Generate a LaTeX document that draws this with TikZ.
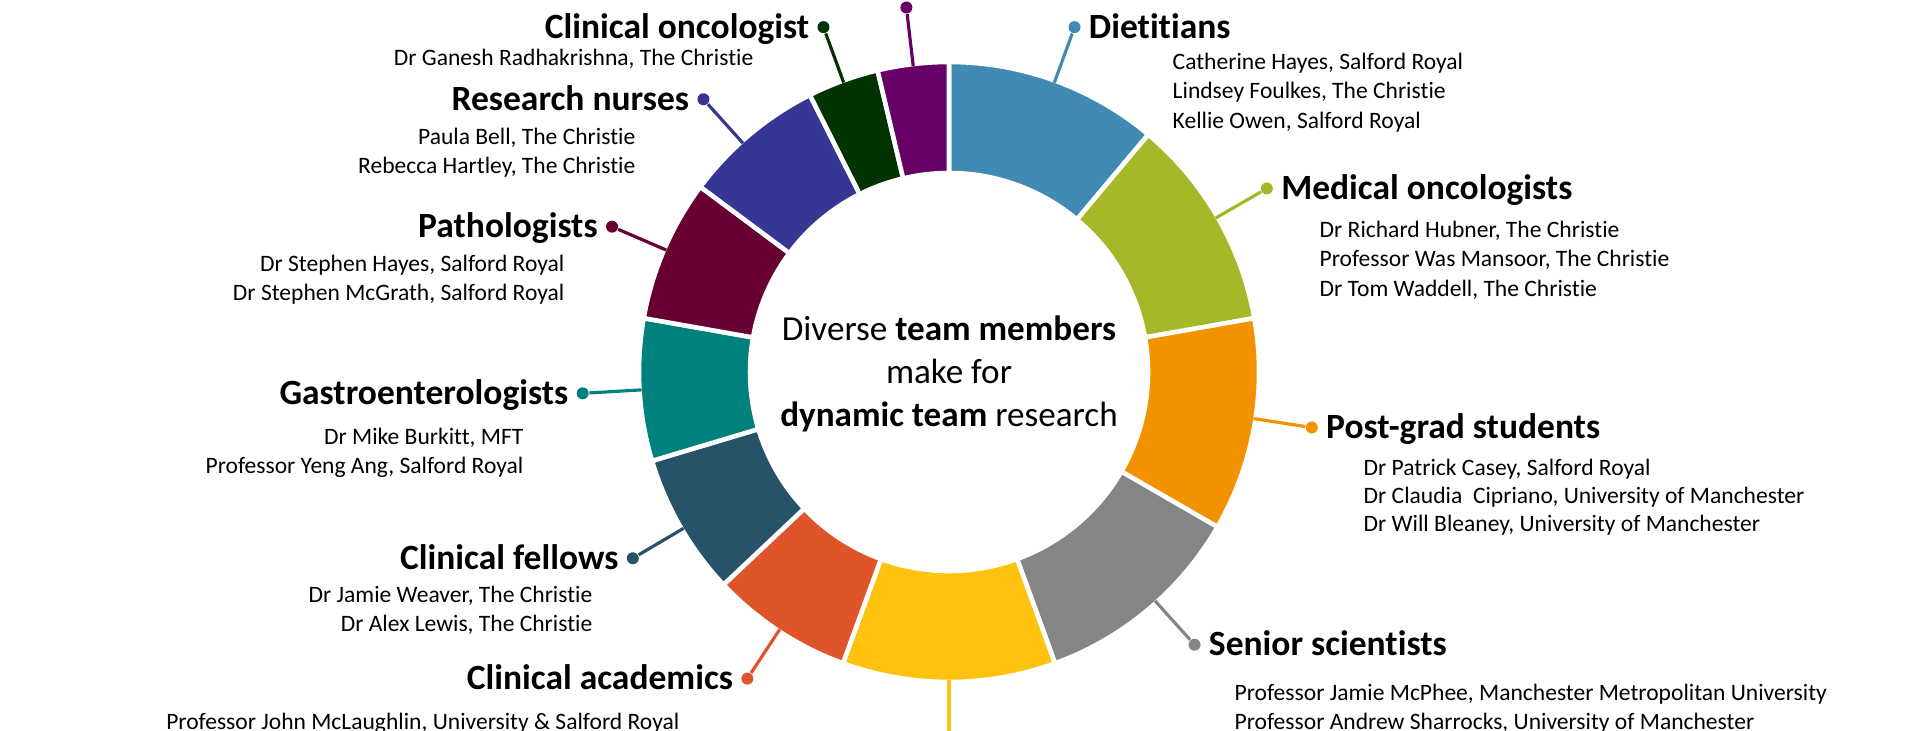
\documentclass[tikz,border=0pt]{standalone}
\usepackage{fontspec}
\setmainfont{Carlito}[Ligatures={NoCommon,NoRequired}]
\usetikzlibrary{positioning}

\definecolor{dietblue}{HTML}{418AB3}
\definecolor{medgreen}{HTML}{A6B727}
\definecolor{pgorange}{HTML}{F39200}
\definecolor{seniorgray}{HTML}{858585}
\definecolor{yellowseg}{HTML}{FFC20E}
\definecolor{acadred}{HTML}{E0542A}
\definecolor{fellowblue}{HTML}{275369}
\definecolor{gastroteal}{HTML}{00817E}
\definecolor{pathmaroon}{HTML}{680034}
\definecolor{nurseindigo}{HTML}{363795}
\definecolor{oncgreen}{HTML}{023302}
\definecolor{purpleseg}{HTML}{660066}

% one coloured piece of the ring
\newcommand{\ringpart}[3]{%
    \filldraw[part, fill=#3] (#1:3.1) arc[start angle=#1, end angle=#2, radius=3.1]
        -- (#2:1.99) arc[start angle=#2, end angle=#1, radius=1.99] -- cycle;}

\begin{document}
\begin{tikzpicture}[
    part/.style={draw=white, line width=1.3pt},
    pindot/.style={circle, fill=#1, inner sep=0pt, minimum size=0.12cm},
    leader/.style={draw=#1, line width=0.9pt},
    grouphead/.style={inner sep=0pt, text height=0.64em, text depth=0pt,
        font=\fontsize{10.1}{12}\selectfont\bfseries},
    who/.style={inner sep=0pt, font=\fontsize{6.7}{8.4}\selectfont},
    ]
    \useasboundingbox (0,0) rectangle (19.2,7.3);

    \begin{scope}[shift={(9.49,3.58)}]
    % ring
    \ringpart{90}{50}{dietblue}
    \ringpart{50}{10}{medgreen}
    \ringpart{10}{-30}{pgorange}
    \ringpart{-30}{-70}{seniorgray}
    \ringpart{-70}{-110}{yellowseg}
    \ringpart{-110}{-136.67}{acadred}
    \ringpart{-136.67}{-163.33}{fellowblue}
    \ringpart{-163.33}{-190}{gastroteal}
    \ringpart{-190}{-216.67}{pathmaroon}
    \ringpart{-216.67}{-243.33}{nurseindigo}
    \ringpart{-243.33}{-256.67}{oncgreen}
    \ringpart{-256.67}{-270}{purpleseg}

    % centre text
    \node[align=center, font=\fontsize{10}{12.2}\selectfont] (motto) at (0,-0.02)
        {Diverse \textbf{team members}\\make for\\\textbf{dynamic team} research};

    % dietitians
    \coordinate (dietRim) at (70:3.08);
    \node[pindot=dietblue] (dietDot) at (70:3.67) {};
    \draw[leader=dietblue] (dietRim) -- (dietDot);
    \node[grouphead, right=0.07 of dietDot] (dietHead) {Dietitians};

    % medical oncologists
    \coordinate (medoncRim) at (30:3.08);
    \node[pindot=medgreen] (medoncDot) at (30:3.67) {};
    \draw[leader=medgreen] (medoncRim) -- (medoncDot);
    \node[grouphead, right=0.07 of medoncDot] (medoncHead) {Medical oncologists};

    % post-grad students
    \coordinate (pgRim) at (-8.7:3.08);
    \node[pindot=pgorange] (pgDot) at (-8.7:3.67) {};
    \draw[leader=pgorange] (pgRim) -- (pgDot);
    \node[grouphead, right=0.07 of pgDot] (pgHead) {Post-grad students};

    % senior scientists
    \coordinate (seniorRim) at (-48:3.08);
    \node[pindot=seniorgray] (seniorDot) at (-48:3.67) {};
    \draw[leader=seniorgray] (seniorRim) -- (seniorDot);
    \node[grouphead, right=0.07 of seniorDot] (seniorHead) {Senior scientists};

    % yellow part, label below the frame
    \coordinate (yellowRim) at (-90:3.08);
    \coordinate (yellowEnd) at (-90:3.8);
    \draw[leader=yellowseg] (yellowRim) -- (yellowEnd);

    % clinical academics
    \coordinate (acadRim) at (-123.33:3.08);
    \node[pindot=acadred] (acadDot) at (-123.33:3.67) {};
    \draw[leader=acadred] (acadRim) -- (acadDot);
    \node[grouphead, left=0.07 of acadDot] (acadHead) {Clinical academics};

    % clinical fellows
    \coordinate (fellowRim) at (-149.5:3.08);
    \node[pindot=fellowblue] (fellowDot) at (-149.5:3.67) {};
    \draw[leader=fellowblue] (fellowRim) -- (fellowDot);
    \node[grouphead, left=0.07 of fellowDot] (fellowHead) {Clinical fellows};

    % gastroenterologists
    \coordinate (gastroRim) at (183.33:3.08);
    \node[pindot=gastroteal] (gastroDot) at (183.33:3.67) {};
    \draw[leader=gastroteal] (gastroRim) -- (gastroDot);
    \node[grouphead, left=0.07 of gastroDot] (gastroHead) {Gastroenterologists};

    % pathologists
    \coordinate (pathRim) at (156.67:3.08);
    \node[pindot=pathmaroon] (pathDot) at (156.67:3.67) {};
    \draw[leader=pathmaroon] (pathRim) -- (pathDot);
    \node[grouphead, left=0.07 of pathDot] (pathHead) {Pathologists};

    % research nurses
    \coordinate (nurseRim) at (132:3.08);
    \node[pindot=nurseindigo] (nurseDot) at (132:3.67) {};
    \draw[leader=nurseindigo] (nurseRim) -- (nurseDot);
    \node[grouphead, left=0.07 of nurseDot] (nurseHead) {Research nurses};

    % clinical oncologist
    \coordinate (clinoncRim) at (110:3.08);
    \node[pindot=oncgreen] (clinoncDot) at (110:3.67) {};
    \draw[leader=oncgreen] (clinoncRim) -- (clinoncDot);
    \node[grouphead, left=0.07 of clinoncDot] (clinoncHead) {Clinical oncologist};

    % purple part, label above the frame
    \coordinate (purpleRim) at (96.67:3.08);
    \node[pindot=purpleseg] (purpleDot) at (96.67:3.67) {};
    \draw[leader=purpleseg] (purpleRim) -- (purpleDot);
    \end{scope}

    % team members, right side
    \node[who, anchor=north west, align=left] (dietNames) at (11.72,6.78)
        {Catherine Hayes, Salford Royal\\Lindsey Foulkes, The Christie\\Kellie Owen, Salford Royal};
    \node[who, anchor=north west, align=left] (medoncNames) at (13.19,5.10)
        {Dr Richard Hubner, The Christie\\Professor Was Mansoor, The Christie\\Dr Tom Waddell, The Christie};
    \node[who, anchor=north west, align=left, font=\fontsize{6.7}{8.1}\selectfont] (pgNames) at (13.63,2.72)
        {Dr Patrick Casey, Salford Royal\\Dr Claudia~ Cipriano, University of Manchester\\Dr Will Bleaney, University of Manchester};
    \node[who, anchor=north west, align=left] (seniorNames) at (12.34,0.47)
        {Professor Jamie McPhee, Manchester Metropolitan University\\Professor Andrew Sharrocks, University of Manchester};

    % team members, left side
    \node[who, anchor=north east, align=right] (clinoncNames) at (7.54,6.82)
        {Dr Ganesh Radhakrishna, The Christie};
    \node[who, anchor=north east, align=right] (nurseNames) at (6.36,6.03)
        {Paula Bell, The Christie\\Rebecca Hartley, The Christie};
    \node[who, anchor=north east, align=right] (pathNames) at (5.65,4.76)
        {Dr Stephen Hayes, Salford Royal\\Dr Stephen McGrath, Salford Royal};
    \node[who, anchor=north east, align=right] (gastroNames) at (5.24,3.03)
        {Dr Mike Burkitt, MFT\\Professor Yeng Ang, Salford Royal};
    \node[who, anchor=north east, align=right] (fellowNames) at (5.93,1.45)
        {Dr Jamie Weaver, The Christie\\Dr Alex Lewis, The Christie};
    \node[who, anchor=north east, align=right] (acadNames) at (6.80,0.18)
        {Professor John McLaughlin, University \& Salford Royal};

\end{tikzpicture}
\end{document}
